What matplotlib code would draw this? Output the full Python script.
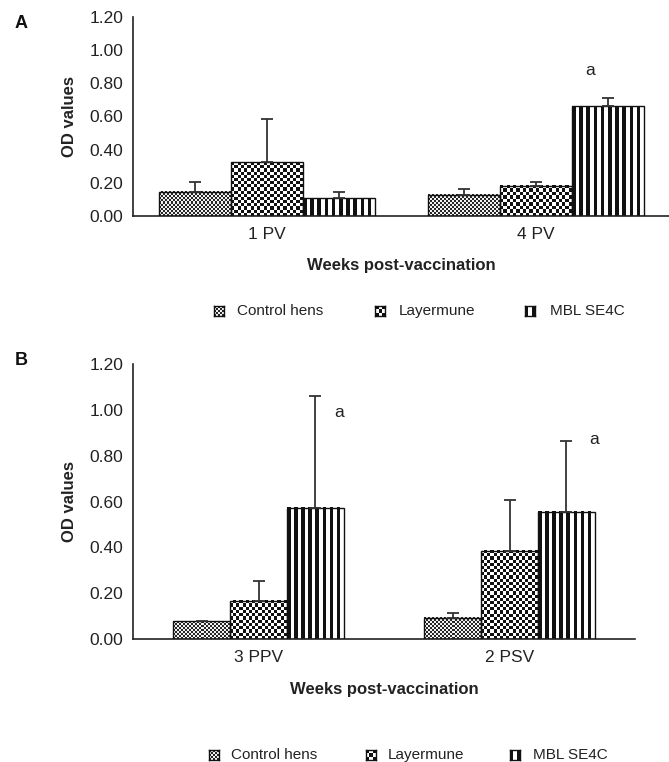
import numpy as np
import matplotlib
matplotlib.use("Agg")
import matplotlib.pyplot as plt
from matplotlib.colors import ListedColormap

plt.rcParams["font.family"] = ["Liberation Sans", "DejaVu Sans"]

W, H = 669, 762

series_names = ["Control hens", "Layermune", "MBL SE4C"]

# panel A
groups_a = ["1 PV", "4 PV"]
control_a = [0.145, 0.127]
control_a_sd = [0.060, 0.036]
layermune_a = [0.325, 0.181]
layermune_a_sd = [0.260, 0.024]
mbl_a = [0.108, 0.663]
mbl_a_sd = [0.037, 0.048]
mbl_a_sig = ["", "a"]

# panel B
groups_b = ["3 PPV", "2 PSV"]
control_b = [0.078, 0.092]
control_b_sd = [np.nan, 0.022]
layermune_b = [0.166, 0.384]
layermune_b_sd = [0.087, 0.223]
mbl_b = [0.572, 0.555]
mbl_b_sd = [0.489, 0.310]
mbl_b_sig = ["a", "a"]

yticks = [0.0, 0.2, 0.4, 0.6, 0.8, 1.0, 1.2]

# pattern: (kind, cell px, dark colour, light colour)
PATTERNS = {
    "Control hens": ("checker", 2.0, "#262626", "#f2f2f2"),
    "Layermune": ("checker", 3.2, "#111111", "#ffffff"),
    "MBL SE4C": ("stripes", 3.6, "#111111", "#ffffff"),
}


def pattern_array(name, w_px, h_px):
    kind, cell, _, _ = PATTERNS[name]
    nx = max(1, int(round(w_px / cell)))
    ny = max(1, int(round(h_px / cell)))
    if kind == "checker":
        return (np.add.outer(np.arange(ny), np.arange(nx)) + 1) % 2
    cols = (np.arange(nx) + 1) % 2
    return np.tile(cols, (1, 1))


def pattern_cmap(name):
    _, _, dark, light = PATTERNS[name]
    return ListedColormap([light, dark])


def fill_bar(ax, bar, name):
    bb = bar.get_window_extent()
    x0, y0 = bar.get_x(), bar.get_y()
    arr = pattern_array(name, bb.width, bb.height)
    ax.imshow(arr, extent=(x0, x0 + bar.get_width(), y0, y0 + bar.get_height()),
              origin="lower", cmap=pattern_cmap(name), vmin=0, vmax=1,
              interpolation="nearest", aspect="auto", zorder=2)


def px_axes(fig, left, top, right, bottom):
    return fig.add_axes([left / W, 1 - bottom / H, (right - left) / W, (bottom - top) / H])


def draw_panel(ax, groups, values, sds, sig, width, sig_offsets, xlabel_y):
    x = np.arange(len(groups))
    ax.set_xlim(-0.5, len(groups) - 0.5)
    ax.set_ylim(0, 1.2)
    for i, name in enumerate(series_names):
        pos = x + (i - 1) * width
        bars = ax.bar(pos, values[i], width=width, facecolor="none",
                      edgecolor="#111111", linewidth=1.0, zorder=3)
        for b in bars:
            fill_bar(ax, b, name)
        sd = np.array(sds[i], dtype=float)
        ax.errorbar(pos, values[i], yerr=[np.zeros_like(sd), sd], fmt="none",
                    ecolor="#333333", elinewidth=1.3, capsize=4.5, capthick=1.3,
                    zorder=4)
    mbl_pos = x + width
    for j, s in enumerate(sig):
        if s:
            top = values[2][j] + sds[2][j]
            ax.annotate(s, (mbl_pos[j], top), xytext=sig_offsets[j],
                        textcoords="offset points", ha="center", va="center",
                        fontsize=12.5, color="#222222")
    ax.set_xlim(-0.5, len(groups) - 0.5)
    ax.set_ylim(0, 1.2)
    ax.set_xticks(x)
    ax.set_xticklabels(groups)
    ax.set_yticks(yticks)
    ax.set_yticklabels([f"{v:.2f}" for v in yticks])
    ax.tick_params(length=0, labelsize=12.5, colors="#222222", pad=7)
    ax.tick_params(axis="x", pad=8)
    for side in ("top", "right"):
        ax.spines[side].set_visible(False)
    for side in ("left", "bottom"):
        ax.spines[side].set_linewidth(1.2)
        ax.spines[side].set_color("#222222")
    ax.set_ylabel("OD values", fontsize=12, fontweight="bold", color="#222222")
    ax.yaxis.set_label_coords(-56 / ax.get_window_extent().width, 0.5)
    ax.set_xlabel("Weeks post-vaccination", fontsize=12, fontweight="bold",
                  color="#222222")
    ax.xaxis.set_label_coords(0.5, xlabel_y)


def draw_legend(fig, cy, marker_xs, text_xs):
    for name, mx, tx in zip(series_names, marker_xs, text_xs):
        max_ = px_axes(fig, mx - 5, cy - 5, mx + 5, cy + 5)
        arr = pattern_array(name, 10, 10)
        max_.imshow(arr, cmap=pattern_cmap(name), vmin=0, vmax=1,
                    interpolation="nearest", aspect="auto", origin="lower")
        max_.set_xticks([])
        max_.set_yticks([])
        for sp in max_.spines.values():
            sp.set_linewidth(1.0)
            sp.set_color("#111111")
        fig.text(tx / W, 1 - cy / H, name, ha="left", va="center",
                 fontsize=11, color="#222222")


fig = plt.figure(figsize=(W / 100, H / 100), dpi=100)

ax_a = px_axes(fig, 133, 17, 670, 216)
draw_panel(ax_a, groups_a, [control_a, layermune_a, mbl_a],
           [control_a_sd, layermune_a_sd, mbl_a_sd], mbl_a_sig, 0.268,
           [(-13, 20), (-13, 20)], -0.211)
draw_legend(fig, 311, [219, 380, 530], [237, 399, 550])

ax_b = px_axes(fig, 133, 364, 635, 639)
draw_panel(ax_b, groups_b, [control_b, layermune_b, mbl_b],
           [control_b_sd, layermune_b_sd, mbl_b_sd], mbl_b_sig, 0.227,
           [(17, -12), (20, 1)], -0.156)
draw_legend(fig, 755, [214, 371, 515], [231, 388, 533])

fig.text(15 / W, 1 - 23 / H, "A", fontsize=13, fontweight="bold",
         ha="left", va="center", color="#111111")
fig.text(15 / W, 1 - 360 / H, "B", fontsize=13, fontweight="bold",
         ha="left", va="center", color="#111111")

fig.savefig("out.png", dpi=100)
